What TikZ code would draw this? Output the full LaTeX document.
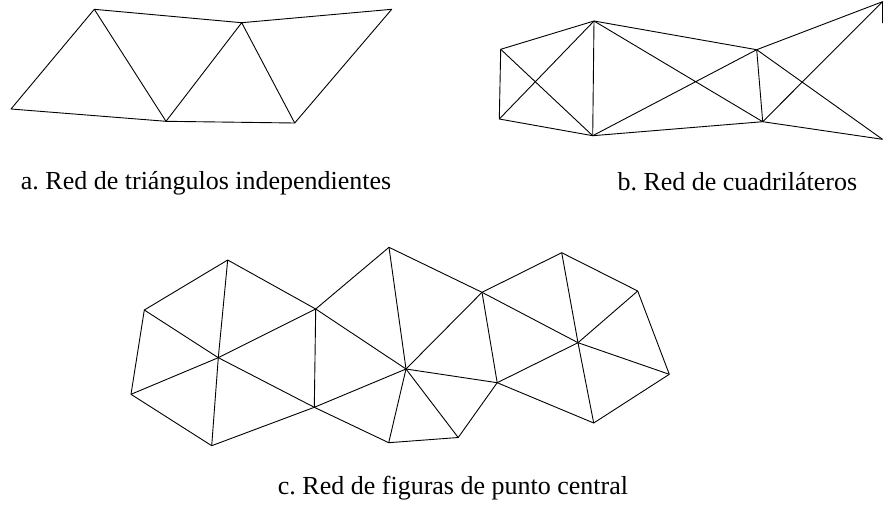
\documentclass[tikz,border=0pt]{standalone}
\usepackage{fontspec}
\setmainfont{Liberation Serif}
\newfontfamily\capfont{Liberation Serif}
\begin{document}
\frenchspacing
\begin{tikzpicture}[x=1pt,y=-1pt,
  edge/.style={line width=0.9pt,line join=round},
  captext/.style={anchor=base west,inner sep=0pt,font=\capfont\fontsize{26}{30}\selectfont}]
\useasboundingbox (0,0) rectangle (883,504);
% part a
\coordinate (A1) at (11,109);
\coordinate (A2) at (94.3,9.3);
\coordinate (A3) at (166,121.3);
\coordinate (A4) at (241.7,22.7);
\coordinate (A5) at (294.7,123);
\coordinate (A6) at (391.7,9.3);
\draw[edge] (A1)--(A2)--(A4)--(A6)--(A5)--(A3)--cycle;
\draw[edge] (A2)--(A3)--(A4)--(A5);
% part b
\coordinate (B1) at (500.7,49.3);
\coordinate (B2) at (499.3,119);
\coordinate (B3) at (594,21);
\coordinate (B4) at (592.7,135.7);
\coordinate (B5) at (756.7,49.7);
\coordinate (B6) at (762.7,121.7);
\coordinate (B7) at (882.5,1.7);
\coordinate (B8) at (882.5,139.3);
\coordinate (Bcut) at (882.5,23);
\draw[edge] (B8)--(B6)--(B4)--(B2)--(B1)--(B3)--(B5)--(B7)--(Bcut);
\draw[edge] (B3)--(B4) (B5)--(B6);
\draw[edge] (B1)--(B4) (B2)--(B3) (B3)--(B6) (B4)--(B5) (B5)--(B8) (B6)--(B7);
% part c
\coordinate (C1) at (227.7,260);
\coordinate (C2) at (144.3,310);
\coordinate (C3) at (131,394.3);
\coordinate (C4) at (218.3,357.7);
\coordinate (C5) at (315.7,309);
\coordinate (C6) at (314.3,407.3);
\coordinate (C7) at (211.7,445.7);
\coordinate (C8) at (389,247.3);
\coordinate (C9) at (406,369);
\coordinate (C10) at (482,292.3);
\coordinate (C11) at (497.2,382.7);
\coordinate (C12) at (458.2,437.5);
\coordinate (C13) at (561.7,252.7);
\coordinate (C14) at (637.7,291);
\coordinate (C15) at (578,342.7);
\coordinate (C16) at (669.3,374.3);
\coordinate (C17) at (593.7,423);
\coordinate (C18) at (388.7,442.7);
\draw[edge] (C1)--(C2)--(C3)--(C7)--(C6)--(C5)--cycle;
\foreach \v in {C1,C2,C3,C7,C6,C5} \draw[edge] (C4)--(\v);
\draw[edge] (C5)--(C8)--(C10)--(C11)--(C12)--(C18)--(C6);
\foreach \v in {C5,C8,C10,C11,C12,C18,C6} \draw[edge] (C9)--(\v);
\draw[edge] (C10)--(C13)--(C14)--(C16)--(C17)--(C11);
\foreach \v in {C10,C13,C14,C16,C17,C11} \draw[edge] (C15)--(\v);
% captions
\node[captext] (ta) at (20.7,189.3) {a. Red de triángulos independientes};
\node[captext] (tb) at (617.3,190) {b. Red de cuadriláteros};
\node[captext] (tc) at (277.7,494.3) {c. Red de figuras de punto central};
\end{tikzpicture}
\end{document}
